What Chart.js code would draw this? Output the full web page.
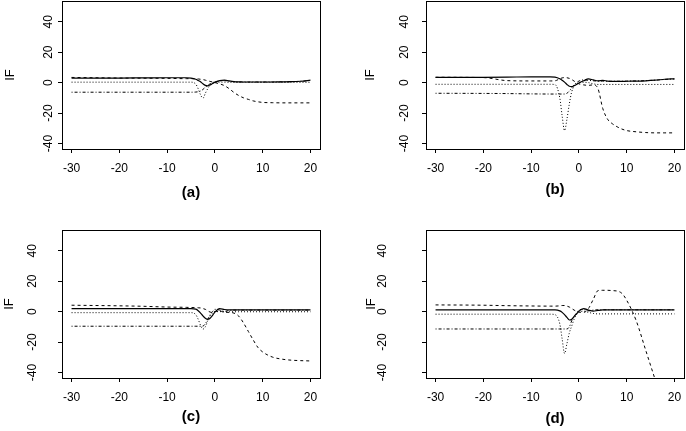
<!DOCTYPE html>
<html>
<head>
<meta charset="utf-8">
<script src="https://cdn.jsdelivr.net/npm/chart.js@4"></script>
<style>
  body { margin: 0; background: #fff; }
  #wrap { position: relative; width: 686px; height: 431px; overflow: hidden; }
  .panel { position: absolute; }
</style>
</head>
<body>
<div id="wrap"></div>
<script>
// shared x positions of the curves
const xGrid = [-30, -20, -15, -10, -6, -5, -4, -3.5, -3, -2.5, -2, -1.5, -1, -0.5, 0, 1, 2, 3, 4, 5, 6, 7, 8, 9, 10, 12, 14, 16, 18, 20];
const xTicks = [-30, -20, -10, 0, 10, 20];
const yTicks = [-40, -20, 0, 20, 40];
const panelLabels = ['(a)', '(b)', '(c)', '(d)'];

// panel (a)
const aSolid   = [2.9, 3.0, 3.1, 3.2, 3.2, 3.0, 2.2, 1.4, 0.5, -0.8, -1.8, -2.1, -1.6, -0.6, 0.3, 1.3, 1.6, 1.1, 0.7, 0.5, 0.4, 0.4, 0.4, 0.4, 0.4, 0.4, 0.5, 0.6, 0.9, 1.6];
const aDashed  = [3.4, 3.0, 2.9, 2.8, 2.6, 2.6, 2.5, 2.4, 2.2, 2.0, 1.6, 1.2, 0.8, 0.4, 0, -0.8, -2, -4, -6.5, -8.5, -10, -11, -12, -12.6, -13, -13.2, -13.3, -13.3, -13.3, -13.3];
const aDotted  = [0.3, 0.3, 0.3, 0.3, 0.3, 0.3, -1, -4, -8, -10.3, -7, -4, -1.5, -0.5, 0, 0.3, 0.3, 0.2, 0.2, 0.2, 0.2, 0.2, 0.2, 0.2, 0.2, 0.2, 0.2, 0.2, 0.2, 0.2];
const aDashDot = [-6.3, -6.3, -6.3, -6.3, -6.3, -6.3, -6.2, -6.0, -5.5, -4.5, -3, -1.8, -0.8, 0, 0.5, 1, 1.3, 0.9, 0.6, 0.5, 0.4, 0.4, 0.4, 0.4, 0.4, 0.4, 0.5, 0.6, 0.9, 1.4];

// panel (b)
const bSolid   = [3.5, 3.5, 3.6, 3.8, 3.8, 3.6, 2.5, 1.5, 0.3, -1.2, -2.4, -2.6, -2.0, -1.2, -0.3, 1.2, 2.4, 1.8, 1.2, 1.5, 1.0, 0.8, 0.8, 0.8, 0.9, 1.0, 1.2, 1.6, 2.2, 2.5];
const bDashed  = [3.5, 3.3, 1.3, 1.1, 1.1, 1.2, 2.5, 3.1, 3.3, 3.2, 2.8, 2.0, 1.0, 0, -0.8, -1.5, -1.8, -1.5, -4, -17, -24, -27, -29, -30.5, -31.5, -32.3, -32.8, -33, -33, -33];
const bDotted  = [-1.1, -1.1, -1.1, -1.1, -1.1, -1.3, -10, -22, -31.5, -24, -14, -6, -2.5, -1, -0.3, 0.2, 0, -0.8, -1.2, -1.2, -1.2, -1.2, -1.2, -1.2, -1.2, -1.2, -1.2, -1.2, -1.2, -1.2];
const bDashDot = [-7, -7.1, -7.2, -7.4, -7.5, -7.5, -7.5, -7.5, -7.5, -7, -5.5, -3.5, -1.5, 0, 1, 1.8, 1.5, 1.2, 1, 1, 0.9, 0.9, 0.9, 0.9, 1, 1.1, 1.3, 1.6, 2.1, 2.4];

// panel (c)
const cSolid   = [2, 2, 2, 2, 2, 2, 1.6, 0.6, -1, -2.8, -4.3, -5, -4.3, -2.5, -0.3, 2, 1.4, 1.1, 1.1, 1.1, 1.1, 1.1, 1.1, 1.1, 1.1, 1.1, 1.1, 1.1, 1.1, 1.1];
const cDashed  = [4.2, 3.8, 3.5, 3.0, 2.8, 2.7, 2.6, 2.5, 2.4, 2.0, 1.5, 0.5, -0.3, -0.5, 0, 0.5, -0.5, -0.5, -1, -3, -7.5, -13, -18.5, -23.5, -26.5, -29.8, -31.2, -31.9, -32.2, -32.4];
const cDotted  = [-0.7, -0.7, -0.7, -0.7, -0.7, -0.7, -2, -5, -9, -11.5, -10, -6, -3, -1, 0, 0, -0.1, -0.1, -0.1, -0.1, -0.1, -0.1, -0.1, -0.1, -0.1, -0.1, -0.1, -0.1, -0.1, -0.1];
const cDashDot = [-9.6, -9.6, -9.6, -9.6, -9.6, -9.6, -9.6, -9.6, -9.6, -9.5, -8, -5, -2, 0, 1.5, 1, 0.2, 0.8, 1, 1, 1, 1, 1, 1, 1, 1, 1, 1, 1, 1];

// panel (d)
const dSolid   = [1.1, 1.1, 1.1, 1.1, 1.1, 1.1, 0.5, -0.5, -2, -3.8, -5.5, -5, -3.2, -1.5, 0.3, 2, 1, 0.3, 0.8, 1.1, 1.1, 1.1, 1.1, 1.1, 1.1, 1.1, 1.1, 1.1, 1.1, 1.1];
const dDashed  = [4.4, 4.2, 3.9, 3.7, 3.6, 3.6, 3.8, 4, 4, 3.6, 3, 2, 1, 0.2, -0.3, -0.5, 2, 8, 13.8, 14, 14, 13.8, 13.5, 12, 7.5, -6, -25.5, -45, -64, -83];
const dDotted  = [-1.7, -1.7, -1.7, -1.7, -1.7, -2, -8, -18, -27.5, -21, -14, -9.5, -5, -2, -0.5, 0.3, -0.5, -1.2, -1.5, -1.5, -1.5, -1.5, -1.5, -1.5, -1.5, -1.5, -1.5, -1.5, -1.5, -1.5];
const dDashDot = [-11.4, -11.4, -11.4, -11.4, -11.4, -11.4, -11.4, -11.4, -11.4, -11.4, -10, -6, -3, -1, 1, 1.5, 0.5, 1, 1.2, 1.2, 1.2, 1.2, 1.2, 1.2, 1.2, 1.2, 1.2, 1.2, 1.2, 1.2];

const seriesByPanel = [
  [aSolid, aDashed, aDotted, aDashDot],
  [bSolid, bDashed, bDotted, bDashDot],
  [cSolid, cDashed, cDotted, cDashDot],
  [dSolid, dDashed, dDotted, dDashDot]
];

// line styles: solid, dashed, dotted, dash-dot
const lineDash = [[], [3, 3], [1, 2], [1, 2, 3, 2]];

// where each panel sits and how its axis texts are spaced
const layout = [
  { left: 0,   top: 0,   w: 343, h: 215, areaL: 62, areaT: 1,  areaR: 320, areaB: 149, tickPad: 0.8,  ifPad: 3,    labPad: 13.5 },
  { left: 343, top: 0,   w: 343, h: 215, areaL: 83, areaT: 1,  areaR: 341, areaB: 149, tickPad: 8.5,  ifPad: 19.2, labPad: 16.6 },
  { left: 0,   top: 215, w: 343, h: 216, areaL: 62, areaT: 15, areaR: 320, areaB: 163, tickPad: 16.5, ifPad: 1.5,  labPad: 5.6 },
  { left: 343, top: 215, w: 343, h: 216, areaL: 83, areaT: 15, areaR: 341, areaB: 163, tickPad: 30.5, ifPad: 21,   labPad: 3 }
];

Chart.defaults.font.family = "'Liberation Sans', Arial, sans-serif";
Chart.defaults.color = '#000';

const boxPlugin = {
  id: 'box',
  afterDraw(chart) {
    const a = chart.chartArea;
    const ctx = chart.ctx;
    ctx.save();
    ctx.strokeStyle = '#000';
    ctx.lineWidth = 1;
    ctx.strokeRect(a.left + 0.5, a.top + 0.5, a.right - a.left, a.bottom - a.top);
    ctx.restore();
  }
};

const wrap = document.getElementById('wrap');

layout.forEach((p, i) => {
  const canvas = document.createElement('canvas');
  canvas.className = 'panel';
  canvas.width = p.w;
  canvas.height = p.h;
  canvas.style.left = p.left + 'px';
  canvas.style.top = p.top + 'px';
  canvas.style.width = p.w + 'px';
  canvas.style.height = p.h + 'px';
  wrap.appendChild(canvas);

  const datasets = seriesByPanel[i].map((vals, k) => ({
    data: vals.map((v, j) => ({ x: xGrid[j], y: v })),
    borderColor: '#000',
    borderWidth: k === 0 ? 1.2 : 1,
    borderDash: lineDash[k],
    pointRadius: 0,
    fill: false,
    cubicInterpolationMode: 'monotone'
  }));

  new Chart(canvas, {
    type: 'line',
    data: { datasets: datasets },
    options: {
      responsive: false,
      animation: false,
      layout: { padding: { left: 0, top: p.areaT, right: p.w - p.areaR, bottom: 0 } },
      plugins: { legend: { display: false }, tooltip: { enabled: false } },
      scales: {
        x: {
          type: 'linear',
          min: -32,
          max: 22,
          afterFit: s => {
            s.height = p.h - p.areaB;
            s.paddingLeft = 0;
            s.paddingRight = 0;
          },
          afterBuildTicks: s => { s.ticks = xTicks.map(v => ({ value: v })); },
          grid: { display: true, drawOnChartArea: false, drawTicks: true, tickLength: 4, color: '#000' },
          border: { display: false },
          ticks: { font: { size: 12 }, padding: 8.5, maxRotation: 0, color: '#000' },
          title: { display: true, text: panelLabels[i], font: { size: 15, weight: 'bold' }, padding: { top: 0, bottom: p.labPad }, color: '#000' }
        },
        y: {
          type: 'linear',
          min: -43.6,
          max: 53.6,
          afterFit: s => {
            s.width = p.areaL;
            s.paddingTop = 0;
            s.paddingBottom = 0;
          },
          afterBuildTicks: s => { s.ticks = yTicks.map(v => ({ value: v })); },
          grid: { display: true, drawOnChartArea: false, drawTicks: true, tickLength: 4, color: '#000' },
          border: { display: false },
          ticks: { font: { size: 12 }, padding: p.tickPad, minRotation: 90, maxRotation: 90, crossAlign: 'center', color: '#000' },
          title: { display: true, text: 'IF', font: { size: 13 }, padding: { top: p.ifPad, bottom: 0 }, color: '#000' }
        }
      }
    },
    plugins: [boxPlugin]
  });
});
</script>
</body>
</html>
